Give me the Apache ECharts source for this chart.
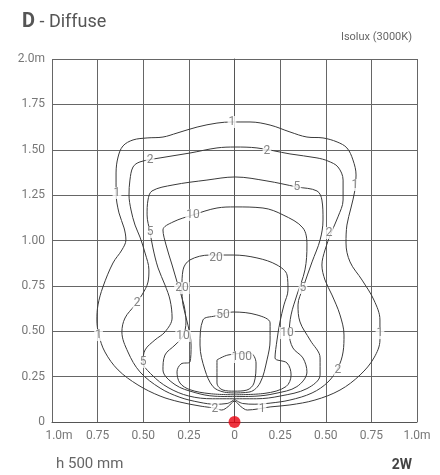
<!DOCTYPE html>
<html><head><meta charset="utf-8">
<script src="https://cdn.jsdelivr.net/npm/echarts@6/dist/echarts.min.js"></script>
<style>html,body{margin:0;padding:0;background:#fff}#c{width:440px;height:475px}</style>
</head><body><div id="c"></div>
<script>
// Tick labels
const xTickLabels = ["1.0m","0.75","0.50","0.25","0","0.25","0.50","0.75","1.0m"];
const yTickLabels = ["0","0.25","0.50","0.75","1.00","1.25","1.50","1.75","2.0m"];

// Isolux contours (x in m, y in m)
const iso1 = [[-0.107,0.077],[-0.189,0.088],[-0.299,0.110],[-0.408,0.143],[-0.529,0.204],[-0.638,0.287],[-0.710,0.386],[-0.743,0.479],[-0.754,0.562],[-0.748,0.645],[-0.721,0.744],[-0.666,0.876],[-0.617,0.948],[-0.595,1.003],[-0.605,1.069],[-0.633,1.152],[-0.649,1.262],[-0.649,1.372],[-0.638,1.460],[-0.611,1.521],[-0.556,1.554],[-0.479,1.565],[-0.392,1.570],[-0.315,1.592],[-0.205,1.625],[-0.096,1.647],[-0.014,1.653],[0.085,1.653],[0.195,1.636],[0.304,1.598],[0.397,1.570],[0.485,1.565],[0.562,1.543],[0.616,1.510],[0.649,1.444],[0.666,1.361],[0.660,1.278],[0.638,1.179],[0.616,1.085],[0.611,0.986],[0.633,0.882],[0.699,0.782],[0.764,0.672],[0.797,0.562],[0.797,0.452],[0.764,0.353],[0.688,0.259],[0.578,0.176],[0.441,0.121],[0.304,0.094],[0.195,0.083],[0.129,0.072],[0.07,0.066],[0.035,0.085],[0.0,0.115],[-0.035,0.085],[-0.07,0.066],[-0.107,0.077]];
const iso2 = [[0.0,0.125],[-0.04,0.102],[-0.107,0.098],[-0.189,0.108],[-0.299,0.136],[-0.408,0.187],[-0.518,0.276],[-0.584,0.386],[-0.617,0.496],[-0.600,0.573],[-0.545,0.645],[-0.507,0.700],[-0.474,0.771],[-0.469,0.838],[-0.490,0.931],[-0.518,1.019],[-0.545,1.085],[-0.567,1.168],[-0.578,1.251],[-0.573,1.333],[-0.556,1.405],[-0.518,1.433],[-0.408,1.455],[-0.244,1.482],[-0.096,1.510],[0.003,1.515],[0.123,1.510],[0.304,1.477],[0.452,1.455],[0.512,1.438],[0.567,1.405],[0.595,1.333],[0.595,1.223],[0.567,1.130],[0.529,1.041],[0.496,0.948],[0.479,0.865],[0.496,0.782],[0.534,0.700],[0.578,0.590],[0.600,0.479],[0.595,0.386],[0.567,0.298],[0.512,0.220],[0.425,0.160],[0.304,0.121],[0.195,0.104],[0.112,0.098],[0.045,0.102],[0.0,0.125]];
const iso5 = [[0.0,0.128],[-0.12,0.128],[-0.25,0.143],[-0.364,0.190],[-0.452,0.259],[-0.501,0.331],[-0.490,0.397],[-0.436,0.452],[-0.381,0.496],[-0.342,0.573],[-0.353,0.672],[-0.381,0.755],[-0.419,0.849],[-0.447,0.959],[-0.463,1.047],[-0.479,1.141],[-0.474,1.223],[-0.452,1.273],[-0.337,1.306],[-0.151,1.333],[0.003,1.350],[0.178,1.328],[0.342,1.295],[0.452,1.273],[0.479,1.223],[0.485,1.113],[0.469,1.003],[0.425,0.882],[0.375,0.738],[0.348,0.645],[0.359,0.551],[0.414,0.452],[0.469,0.353],[0.469,0.259],[0.397,0.184],[0.25,0.143],[0.12,0.128],[0.0,0.128]];
const iso10 = [[0.0,0.140],[-0.107,0.142],[-0.216,0.162],[-0.326,0.206],[-0.392,0.287],[-0.381,0.369],[-0.326,0.424],[-0.282,0.474],[-0.266,0.551],[-0.277,0.645],[-0.310,0.755],[-0.342,0.865],[-0.375,0.975],[-0.392,1.058],[-0.337,1.102],[-0.227,1.141],[-0.096,1.179],[0.003,1.185],[0.156,1.179],[0.266,1.141],[0.375,1.069],[0.397,0.975],[0.386,0.838],[0.342,0.700],[0.310,0.590],[0.300,0.490],[0.320,0.408],[0.375,0.353],[0.397,0.276],[0.342,0.195],[0.222,0.157],[0.112,0.142],[0.0,0.140]];
const iso20 = [[0.0,0.150],[-0.134,0.156],[-0.244,0.178],[-0.299,0.215],[-0.315,0.276],[-0.293,0.320],[-0.244,0.331],[-0.238,0.424],[-0.255,0.534],[-0.282,0.645],[-0.288,0.738],[-0.282,0.838],[-0.244,0.893],[-0.134,0.920],[-0.008,0.920],[0.123,0.904],[0.233,0.865],[0.288,0.810],[0.293,0.727],[0.271,0.645],[0.249,0.551],[0.233,0.452],[0.222,0.353],[0.288,0.325],[0.310,0.259],[0.282,0.195],[0.167,0.158],[0.0,0.150]];
const iso50 = [[0.0,0.160],[-0.063,0.166],[-0.118,0.195],[-0.162,0.287],[-0.189,0.424],[-0.173,0.562],[-0.107,0.584],[-0.008,0.606],[0.123,0.590],[0.195,0.546],[0.195,0.452],[0.178,0.342],[0.140,0.215],[0.085,0.166],[0.0,0.160]];
const iso100 = [[-0.096,0.342],[-0.036,0.369],[0.085,0.380],[0.118,0.325],[0.107,0.215],[0.068,0.176],[0.0,0.170],[-0.063,0.176],[-0.096,0.215],[-0.096,0.342]];

// Contour value labels: [x, y, text]
const isoLabels = [
  [-0.014,1.653,"1"],[-0.644,1.262,"1"],[0.660,1.306,"1"],[-0.745,0.479,"1"],[0.797,0.490,"1"],[0.151,0.072,"1"],
  [-0.463,1.444,"2"],[0.178,1.493,"2"],[0.518,1.041,"2"],[-0.534,0.656,"2"],[0.567,0.287,"2"],[-0.107,0.072,"2"],
  [0.342,1.295,"5"],[-0.463,1.047,"5"],[0.375,0.738,"5"],[-0.501,0.331,"5"],
  [-0.227,1.141,"10"],[-0.282,0.474,"10"],[0.288,0.490,"10"],
  [-0.101,0.904,"20"],[-0.288,0.738,"20"],
  [-0.063,0.590,"50"],
  [0.041,0.358,"100"]
];
const source = [[0,0]];

const chart = echarts.init(document.getElementById('c'), null, {renderer:'canvas'});
const lineColor = '#3a3a3a';
const contours = [iso1, iso2, iso5, iso10, iso20, iso50, iso100];
const FONT = 'Roboto, "Liberation Sans", sans-serif';

const series = contours.map(d => ({
  type:'line', data:d, symbol:'none', smooth:0.35, silent:true,
  lineStyle:{color:lineColor,width:1}, z:3, animation:false
}));
series.push({
  type:'scatter', data:isoLabels.map(l=>({value:[l[0],l[1]], name:l[2]})),
  symbolSize:1, itemStyle:{color:'rgba(0,0,0,0)'}, z:5, animation:false, silent:true,
  label:{show:true, position:'inside', formatter:p=>p.name, color:'#666', fontSize:12,
    fontFamily:FONT, backgroundColor:'#fff', padding:[0,1]}
});
series.push({
  type:'scatter', data:source, symbolSize:12, itemStyle:{color:'#e8000f'}, z:10, animation:false,
  clip:false
});

chart.setOption({
  animation:false,
  grid:{left:52, right:23, top:59, bottom:53, containLabel:false},
  title:[
    {text:'{b|D} - Diffuse', left:17, top:7,
      textStyle:{fontFamily:FONT, fontSize:18, color:'#555', fontWeight:'normal',
        rich:{b:{fontFamily:FONT, fontSize:20, fontWeight:'bold', color:'#555'}}}},
    {text:'Isolux (3000K)', right:23, top:27, textStyle:{fontFamily:FONT, fontSize:11, color:'#666', fontWeight:'normal'}},
    {text:'h 500 mm', left:51, top:452, textStyle:{fontFamily:FONT, fontSize:15, color:'#666', fontWeight:'normal'}},
    {text:'2W', right:23, top:453, textStyle:{fontFamily:FONT, fontSize:14, color:'#444', fontWeight:'bold'}}
  ],
  xAxis:{type:'value', min:-1, max:1, interval:0.25,
    axisLine:{show:true, onZero:false, lineStyle:{color:'#555'}},
    axisTick:{show:false},
    splitLine:{show:true, lineStyle:{color:'#666', width:1}},
    axisLabel:{color:'#777', fontFamily:FONT, fontSize:12, margin:8,
      formatter:v=>{const i=Math.round((v+1)/0.25); return i===0?'{m|'+xTickLabels[0]+'}':xTickLabels[i];},
      rich:{m:{padding:[0,0,0,14], color:'#777', fontFamily:FONT, fontSize:12}}}
  },
  yAxis:{type:'value', min:0, max:2, interval:0.25,
    axisLine:{show:true, lineStyle:{color:'#555'}},
    axisTick:{show:false},
    splitLine:{show:true, lineStyle:{color:'#666', width:1}},
    axisLabel:{color:'#777', fontFamily:FONT, fontSize:12, margin:7,
      formatter:v=>yTickLabels[Math.round(v/0.25)]}
  },
  series:series
});
</script>
</body></html>
